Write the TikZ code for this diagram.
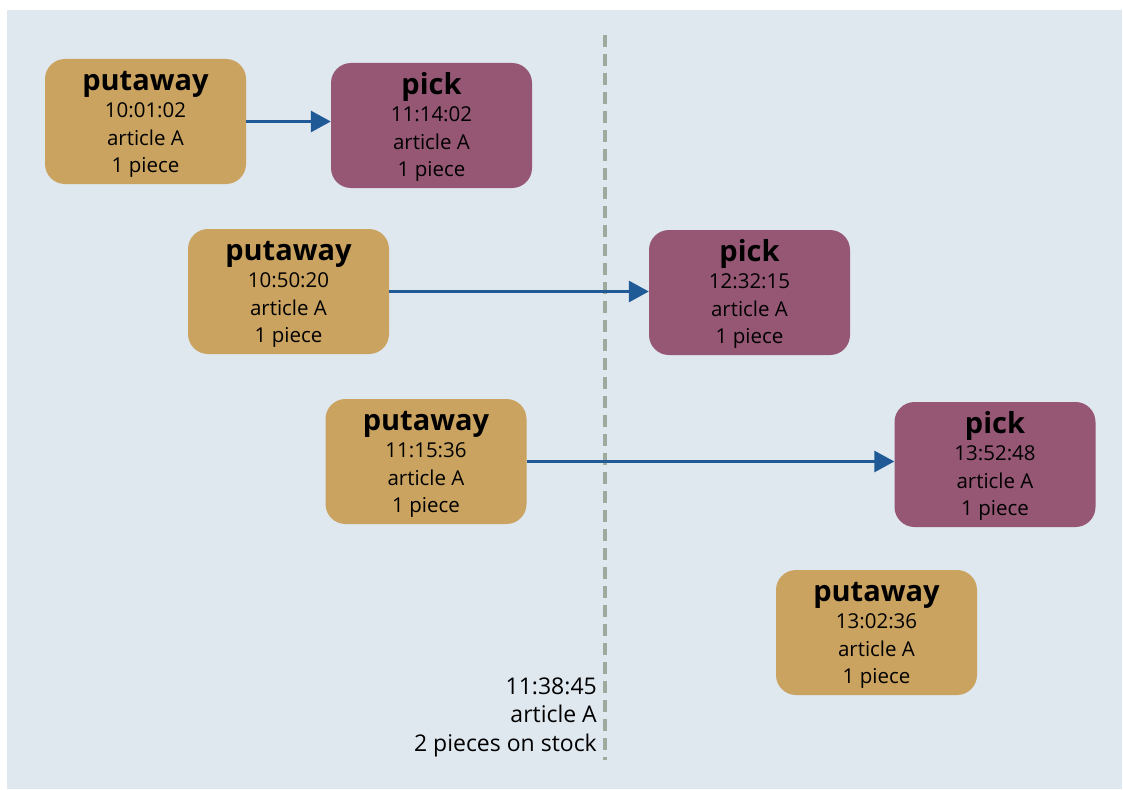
\documentclass[tikz,border=0pt]{standalone}
\usepackage{fontspec}
\setmainfont{Open Sans}
\usetikzlibrary{arrows.meta}
\definecolor{bgblue}{HTML}{DFE7EF}
\definecolor{putawayfill}{HTML}{CBA360}
\definecolor{pickfill}{HTML}{955774}
\definecolor{flowblue}{HTML}{1F5A96}
\definecolor{cutgrey}{HTML}{9DAA9D}
\newcommand{\evtitle}[1]{{\fontsize{29}{30}\selectfont\bfseries\rule{0pt}{25pt}#1}}
\newcommand{\evtext}[3]{\evtitle{#1}\\[0pt]#2\\article A\\#3}
\tikzset{
  x=1pt, y=-1pt,
  event/.style={rounded corners=20pt, minimum width=201pt, minimum height=125pt,
    inner sep=0pt, align=center, font=\fontsize{20.5}{27.5}\selectfont},
  putawaybox/.style={event, fill=putawayfill},
  pickbox/.style={event, fill=pickfill},
  flow/.style={flowblue, line width=3pt, -{Triangle[length=20pt,width=21pt]}},
}
\begin{document}
\begin{tikzpicture}
\useasboundingbox (0,0) rectangle (1123,789);
\fill[bgblue] (7,10) rectangle (1122,789);

% inventory cut-off line
\coordinate (cuttop) at (605,35);
\coordinate (cutbot) at (605,760);
\draw[cutgrey, line width=4pt, dash pattern=on 12pt off 7pt] (cuttop) -- (cutbot);

\node[putawaybox] (pa1) at (145.5,121.5) {\evtext{putaway}{10:01:02}{1 piece}};
\node[pickbox]    (pk1) at (431.5,125.5) {\evtext{pick}{11:14:02}{1 piece}};
\node[putawaybox] (pa2) at (288.5,291.5) {\evtext{putaway}{10:50:20}{1 piece}};
\node[pickbox]    (pk2) at (749.5,292.5) {\evtext{pick}{12:32:15}{1 piece}};
\node[putawaybox] (pa3) at (426,461.5)   {\evtext{putaway}{11:15:36}{1 piece}};
\node[pickbox]    (pk3) at (995,464.5)   {\evtext{pick}{13:52:48}{1 piece}};
\node[putawaybox] (pa4) at (876.5,632.5) {\evtext{putaway}{13:02:36}{1 piece}};

\draw[flow] (pa1.east) -- (pa1.east -| pk1.west);
\draw[flow] (pa2.east) -- (pa2.east -| pk2.west);
\draw[flow] (pa3.east) -- (pa3.east -| pk3.west);

\node[anchor=east, align=right, inner sep=0pt, font=\fontsize{23}{28.5}\selectfont] (stock)
  at (597,717) {11:38:45\\article A\\2 pieces on stock};
\end{tikzpicture}
\end{document}
